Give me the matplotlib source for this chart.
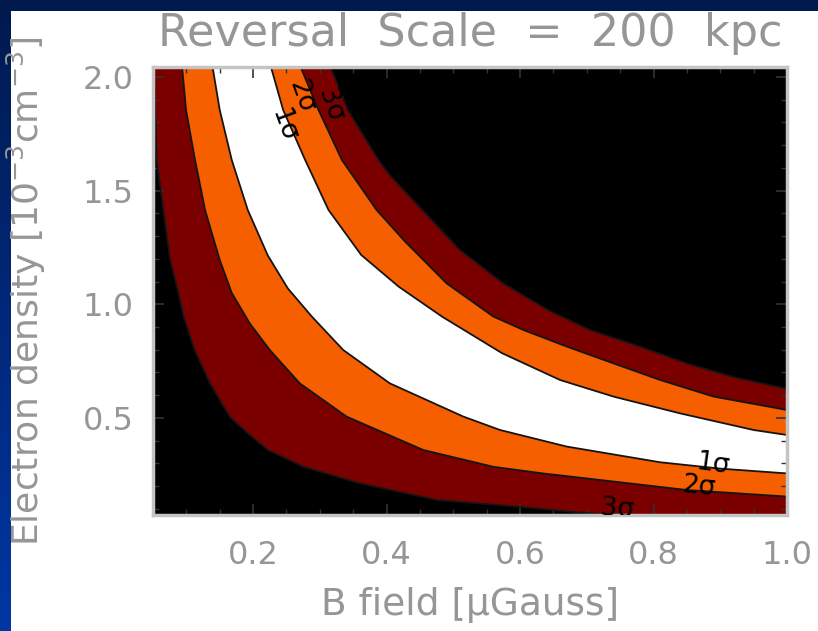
import numpy as np
import matplotlib
matplotlib.use("Agg")
import matplotlib.pyplot as plt
from matplotlib.colors import LinearSegmentedColormap

# --- confidence contour boundaries (B field, electron density) ---
# lower/left edge of each band
x_3s_lo = [0.050, 0.0515, 0.0555, 0.0655, 0.0755, 0.088, 0.096, 0.112, 0.135, 0.165, 0.192,
           0.222, 0.275, 0.360, 0.475, 0.595, 0.685, 0.800, 1.000]
y_3s_lo = [2.100, 2.031, 1.635, 1.415, 1.195, 1.050, 0.944, 0.800, 0.654, 0.504, 0.432,
           0.359, 0.285, 0.212, 0.139, 0.110, 0.085, 0.060, 0.040]
x_2s_lo = [0.090, 0.094, 0.0995, 0.113, 0.128, 0.150, 0.168, 0.195, 0.225, 0.270, 0.340,
           0.455, 0.560, 0.634, 0.720, 0.850, 1.000]
y_2s_lo = [2.100, 2.031, 1.855, 1.635, 1.415, 1.195, 1.050, 0.916, 0.799, 0.652, 0.506,
           0.359, 0.285, 0.256, 0.227, 0.183, 0.154]
x_1s_lo = [0.135, 0.140, 0.150, 0.168, 0.192, 0.222, 0.252, 0.288, 0.335, 0.405, 0.515,
           0.570, 0.670, 0.810, 0.900, 1.000]
y_1s_lo = [2.100, 2.031, 1.855, 1.635, 1.415, 1.215, 1.070, 0.946, 0.799, 0.652, 0.506,
           0.447, 0.374, 0.305, 0.277, 0.256]
# upper/right edge of each band
x_1s_hi = [0.222, 0.228, 0.245, 0.278, 0.313, 0.362, 0.418, 0.483, 0.573, 0.660, 0.740,
           0.840, 0.950, 1.000]
y_1s_hi = [2.100, 2.031, 1.855, 1.635, 1.415, 1.217, 1.078, 0.946, 0.785, 0.667, 0.594,
           0.520, 0.447, 0.425]
x_2s_hi = [0.270, 0.273, 0.298, 0.333, 0.385, 0.428, 0.490, 0.560, 0.605, 0.670, 0.740,
           0.810, 0.890, 1.000]
y_2s_hi = [2.100, 2.031, 1.855, 1.635, 1.415, 1.275, 1.092, 0.946, 0.887, 0.814, 0.740,
           0.667, 0.594, 0.535]
x_3s_hi = [0.315, 0.318, 0.342, 0.388, 0.407, 0.510, 0.575, 0.642, 0.705, 0.780, 0.850,
           0.920, 1.000]
y_3s_hi = [2.100, 2.031, 1.855, 1.635, 1.561, 1.239, 1.092, 0.975, 0.887, 0.814, 0.740,
           0.680, 0.628]

x_ticks = [0.2, 0.4, 0.6, 0.8, 1.0]
y_ticks = [0.5, 1.0, 1.5, 2.0]

txt = "#969696"
plt.rcParams["font.family"] = ["DejaVu Sans"]

fig = plt.figure(figsize=(8.18, 6.31), dpi=100, facecolor="white")

# slide border: blue gradient on the left, navy strip on top
bl = fig.add_axes([0, 0, 11 / 818, 1])
grad = np.linspace(0, 1, 256).reshape(-1, 1)
cm_blue = LinearSegmentedColormap.from_list("slide", ["#001a4f", "#0036a3"])
bl.imshow(grad, aspect="auto", cmap=cm_blue, origin="upper")
bl.axis("off")
tp = fig.add_axes([0, 1 - 11 / 631, 1, 11 / 631])
tp.set_facecolor("#001a4d")
tp.set_xticks([]); tp.set_yticks([])
for s in tp.spines.values():
    s.set_visible(False)

ax = fig.add_axes([153 / 818, 116 / 631, 634 / 818, 448 / 631])
ax.set_facecolor("black")

bands = [
    (x_3s_lo, y_3s_lo, x_3s_hi, y_3s_hi, "#7a0000"),
    (x_2s_lo, y_2s_lo, x_2s_hi, y_2s_hi, "#f65f00"),
    (x_1s_lo, y_1s_lo, x_1s_hi, y_1s_hi, "white"),
]
for xl, yl, xh, yh, c in bands:
    px = np.concatenate([xl, xh[::-1]])
    py = np.concatenate([yl, yh[::-1]])
    ax.fill(px, py, color=c, lw=0)

for xs, ys in [(x_3s_lo, y_3s_lo), (x_2s_lo, y_2s_lo), (x_1s_lo, y_1s_lo),
               (x_1s_hi, y_1s_hi), (x_2s_hi, y_2s_hi), (x_3s_hi, y_3s_hi)]:
    ax.plot(xs, ys, color="#141414", lw=1.3, solid_joinstyle="round")

# contour labels
lab = dict(color="black", fontsize=19, ha="center", va="center")
ax.text(0.245, 1.789, "1σ", rotation=-70, **lab)
ax.text(0.272, 1.915, "2σ", rotation=-70, **lab)
ax.text(0.315, 1.877, "3σ", rotation=-70, **lab)
ax.text(0.888, 0.296, "1σ", rotation=-8, **lab)
ax.text(0.868, 0.195, "2σ", rotation=-6, **lab)
ax.text(0.745, 0.098, "3σ", rotation=-4, clip_on=True, **lab)

ax.set_xlim(0.05, 1.0)
ax.set_ylim(0.073, 2.044)
ax.set_xticks(x_ticks)
ax.set_xticklabels(["%.1f" % v for v in x_ticks])
ax.set_yticks(y_ticks)
ax.set_yticklabels(["%.1f" % v for v in y_ticks])
ax.set_xticks(np.arange(0.05, 1.0, 0.05), minor=True)
ax.set_yticks(np.arange(0.1, 2.0, 0.1), minor=True)
ax.tick_params(which="major", direction="in", length=8, width=1.2, color="#333333",
               top=True, right=True, labelsize=23, labelcolor=txt)
ax.tick_params(axis="x", which="major", pad=18)
ax.tick_params(axis="y", which="major", pad=14)
ax.tick_params(which="minor", direction="in", length=4, width=1, color="#333333",
               top=True, right=True)
for s in ax.spines.values():
    s.set_color("#c4c4c4")
    s.set_linewidth(2.5)

ax.set_title("Reversal  Scale  =  200  kpc", fontsize=32, color=txt, pad=15)
ax.set_xlabel("B field [μGauss]", fontsize=27, color=txt)
ax.xaxis.set_label_coords(0.5, -0.16)
ax.set_ylabel("Electron density [10$^{-3}$cm$^{-3}$]", fontsize=26, color=txt)
ax.yaxis.set_label_coords(-0.165, 0.5)

fig.savefig("out.png", dpi=100, facecolor="white")
